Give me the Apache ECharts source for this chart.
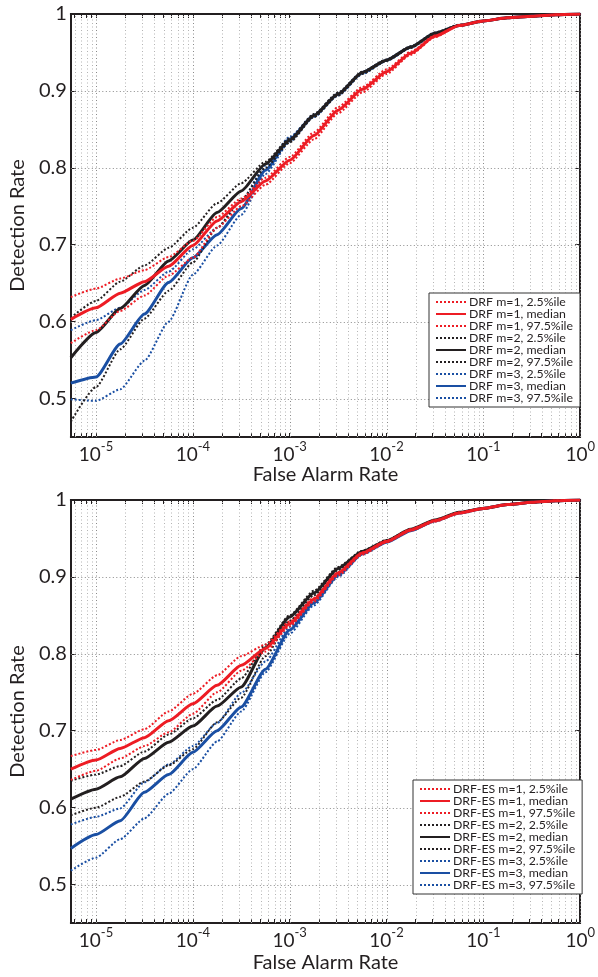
<!DOCTYPE html>
<html><head><meta charset="utf-8">
<script src="https://cdn.jsdelivr.net/npm/echarts@6/dist/echarts.min.js"></script>
<style>html,body{margin:0;padding:0;background:#fff}#c{width:598px;height:977px}</style>
</head><body><div id="c"></div><script>
// x values: log10(False Alarm Rate)
const farLog10 = [-5.26,-5,-4.75,-4.5,-4.25,-4,-3.75,-3.5,-3.25,-3,-2.75,-2.5,-2.25,-2,-1.75,-1.5,-1.25,-1,-0.75,-0.5,-0.25,0];

// Top panel: DRF
const drf_m1_lo  = [0.572,0.589,0.614,0.634,0.660,0.683,0.722,0.750,0.778,0.806,0.837,0.871,0.898,0.922,0.947,0.970,0.985,0.991,0.995,0.997,0.999,1.0];
const drf_m1_med = [0.603,0.618,0.637,0.652,0.672,0.699,0.731,0.756,0.783,0.810,0.842,0.875,0.902,0.925,0.949,0.971,0.985,0.991,0.995,0.997,0.999,1.0];
const drf_m1_hi  = [0.632,0.643,0.656,0.667,0.684,0.705,0.736,0.760,0.787,0.814,0.846,0.879,0.905,0.928,0.951,0.972,0.985,0.991,0.995,0.997,0.999,1.0];
const drf_m2_lo  = [0.470,0.515,0.564,0.604,0.640,0.677,0.722,0.758,0.800,0.833,0.866,0.894,0.922,0.939,0.956,0.974,0.985,0.991,0.995,0.997,0.999,1.0];
const drf_m2_med = [0.553,0.586,0.617,0.647,0.679,0.706,0.742,0.770,0.805,0.836,0.868,0.896,0.924,0.940,0.957,0.975,0.985,0.991,0.995,0.997,0.999,1.0];
const drf_m2_hi  = [0.605,0.627,0.652,0.673,0.696,0.722,0.754,0.780,0.808,0.838,0.870,0.898,0.925,0.941,0.958,0.976,0.986,0.991,0.995,0.997,0.999,1.0];
const drf_m3_lo  = [0.499,0.497,0.512,0.549,0.600,0.661,0.699,0.739,0.792,0.834,0.866,0.894,0.922,0.939,0.956,0.974,0.985,0.991,0.995,0.997,0.999,1.0];
const drf_m3_med = [0.520,0.528,0.571,0.610,0.651,0.683,0.713,0.747,0.797,0.837,0.868,0.896,0.924,0.940,0.957,0.975,0.985,0.991,0.995,0.997,0.999,1.0];
const drf_m3_hi  = [0.589,0.602,0.618,0.641,0.665,0.694,0.722,0.757,0.803,0.840,0.869,0.897,0.924,0.940,0.957,0.975,0.985,0.991,0.995,0.997,0.999,1.0];

// Bottom panel: DRF-ES
const es_m1_lo  = [0.636,0.648,0.664,0.680,0.698,0.722,0.750,0.778,0.803,0.836,0.868,0.902,0.929,0.945,0.960,0.972,0.983,0.989,0.994,0.997,0.999,1.0];
const es_m1_med = [0.650,0.662,0.677,0.691,0.713,0.735,0.759,0.785,0.807,0.839,0.871,0.905,0.931,0.946,0.961,0.973,0.983,0.989,0.994,0.997,0.999,1.0];
const es_m1_hi  = [0.667,0.675,0.688,0.702,0.725,0.748,0.772,0.797,0.812,0.842,0.873,0.906,0.932,0.947,0.962,0.974,0.984,0.989,0.994,0.997,0.999,1.0];
const es_m2_lo  = [0.590,0.600,0.614,0.634,0.655,0.676,0.711,0.743,0.797,0.843,0.876,0.909,0.932,0.946,0.961,0.973,0.983,0.989,0.994,0.997,0.999,1.0];
const es_m2_med = [0.611,0.624,0.640,0.664,0.685,0.706,0.732,0.757,0.808,0.848,0.879,0.911,0.933,0.947,0.962,0.974,0.984,0.989,0.994,0.997,0.999,1.0];
const es_m2_hi  = [0.635,0.643,0.654,0.673,0.695,0.716,0.740,0.768,0.812,0.850,0.882,0.913,0.934,0.948,0.962,0.974,0.984,0.989,0.994,0.997,0.999,1.0];
const es_m3_lo  = [0.518,0.535,0.559,0.586,0.618,0.650,0.686,0.725,0.776,0.826,0.863,0.900,0.929,0.945,0.960,0.972,0.983,0.989,0.994,0.997,0.999,1.0];
const es_m3_med = [0.547,0.565,0.583,0.620,0.643,0.672,0.700,0.731,0.780,0.831,0.866,0.902,0.930,0.945,0.960,0.973,0.983,0.989,0.994,0.997,0.999,1.0];
const es_m3_hi  = [0.578,0.588,0.599,0.633,0.656,0.680,0.710,0.749,0.790,0.835,0.869,0.904,0.931,0.946,0.961,0.973,0.983,0.989,0.994,0.997,0.999,1.0];

// axis ticks
const xDecades = [-5,-4,-3,-2,-1,0];
const yTicks = [0.5,0.6,0.7,0.8,0.9,1];
const X_MIN = -5.26, X_MAX = 0, Y_MIN = 0.45, Y_MAX = 1;

// minor log positions (2..9 within each decade)
const xMinor = [];
for (let d = -6; d < 0; d++) for (let k = 2; k <= 9; k++) { const v = d + Math.log10(k); if (v > X_MIN && v < X_MAX) xMinor.push(v); }
const xAllTicks = xDecades.concat(xMinor);

const INK = '#231F20';
const RED = '#ED1C24', BLACK = '#231F20', BLUE = '#1A4FA3';
const FONT = 'Lato';

function lineSeries(name, xi, yi, ys, color, med, z) {
  return {
    type: 'line', name, xAxisIndex: xi, yAxisIndex: yi, symbol: 'none', showSymbol: false,
    smooth: 0.2, smoothMonotone: 'x',
    data: farLog10.map((x, i) => [x, ys[i]]),
    lineStyle: med ? { color, width: 3 } : { color, width: 2, type: [2, 2] },
    itemStyle: { color }, z: z, emphasis: { disabled: true }, animation: false
  };
}
function vGrid(xi, yi, vals, color) {
  return {
    type: 'custom', xAxisIndex: xi, yAxisIndex: yi, silent: true, z: 1, animation: false,
    data: vals.map(v => [v, Y_MIN]), encode: { x: 0, y: 1 },
    renderItem: (params, api) => {
      const p1 = api.coord([api.value(0), Y_MIN]), p2 = api.coord([api.value(0), Y_MAX]);
      const x = Math.round(p1[0]) + 0.5;
      return { type: 'line', shape: { x1: x, y1: p1[1], x2: x, y2: p2[1] }, style: { stroke: color, lineWidth: 1, lineDash: [1, 2.5] } };
    }
  };
}
function hGrid(xi, yi, vals, color) {
  return {
    type: 'custom', xAxisIndex: xi, yAxisIndex: yi, silent: true, z: 1, animation: false,
    data: vals.map(v => [X_MIN, v]), encode: { x: 0, y: 1 },
    renderItem: (params, api) => {
      const p1 = api.coord([X_MIN, api.value(1)]), p2 = api.coord([X_MAX, api.value(1)]);
      const y = Math.round(p1[1]) + 0.5;
      return { type: 'line', shape: { x1: p1[0], y1: y, x2: p2[0], y2: y }, style: { stroke: color, lineWidth: 1, lineDash: [1, 2.5] } };
    }
  };
}

function xAxisDef(gi, pos, main, gap) {
  return {
    type: 'value', gridIndex: gi, position: pos, min: X_MIN, max: X_MAX,
    splitLine: { show: false },
    axisLine: { show: true, onZero: false, lineStyle: { color: INK, width: 2 } },
    axisTick: { show: true, inside: true, length: 4, customValues: xAllTicks, lineStyle: { color: INK, width: 1 } },
    axisLabel: main ? {
      show: true, customValues: xDecades, margin: 3,
      formatter: v => '{b|10}{s|' + String(Math.round(v)) + '}',
      rich: {
        b: { fontSize: 19, fontFamily: FONT, color: INK, lineHeight: 24, verticalAlign: 'bottom' },
        s: { fontSize: 13, fontFamily: FONT, color: INK, lineHeight: 24, verticalAlign: 'top' }
      }
    } : { show: false },
    name: main ? 'False Alarm Rate' : '', nameLocation: 'middle', nameGap: gap,
    nameTextStyle: { fontSize: 20, fontFamily: FONT, color: INK }
  };
}
function yAxisDef(gi, pos, main) {
  return {
    type: 'value', gridIndex: gi, position: pos, min: Y_MIN, max: Y_MAX,
    splitLine: { show: false },
    axisLine: { show: true, onZero: false, lineStyle: { color: INK, width: 2 } },
    axisTick: { show: true, inside: true, length: 5, customValues: yTicks, lineStyle: { color: INK, width: 1 } },
    axisLabel: main ? {
      show: true, customValues: yTicks, margin: 4, fontSize: 20, fontFamily: FONT, color: INK,
      formatter: v => (Math.abs(v - 1) < 1e-9 ? '1' : v.toFixed(1))
    } : { show: false },
    name: main ? 'Detection Rate' : '', nameLocation: 'middle', nameGap: 24, nameRotate: 90,
    nameTextStyle: { fontSize: 20, fontFamily: FONT, color: INK }
  };
}

const topNames = ['DRF m=1, 2.5%ile','DRF m=1, median','DRF m=1, 97.5%ile','DRF m=2, 2.5%ile','DRF m=2, median','DRF m=2, 97.5%ile','DRF m=3, 2.5%ile','DRF m=3, median','DRF m=3, 97.5%ile'];
const botNames = ['DRF-ES m=1, 2.5%ile','DRF-ES m=1, median','DRF-ES m=1, 97.5%ile','DRF-ES m=2, 2.5%ile','DRF-ES m=2, median','DRF-ES m=2, 97.5%ile','DRF-ES m=3, 2.5%ile','DRF-ES m=3, median','DRF-ES m=3, 97.5%ile'];

const series = [
  vGrid(0, 0, xMinor, '#b4b4b4'), vGrid(0, 0, xDecades, '#8a8a8a'), hGrid(0, 0, yTicks.slice(0, 5), '#8a8a8a'),
  vGrid(2, 2, xMinor, '#b4b4b4'), vGrid(2, 2, xDecades, '#8a8a8a'), hGrid(2, 2, yTicks.slice(0, 5), '#8a8a8a'),
  // top panel (blue, black, red drawing order)
  lineSeries(topNames[6], 0, 0, drf_m3_lo, BLUE, false, 3),
  lineSeries(topNames[8], 0, 0, drf_m3_hi, BLUE, false, 3),
  lineSeries(topNames[7], 0, 0, drf_m3_med, BLUE, true, 3),
  lineSeries(topNames[3], 0, 0, drf_m2_lo, BLACK, false, 4),
  lineSeries(topNames[5], 0, 0, drf_m2_hi, BLACK, false, 4),
  lineSeries(topNames[4], 0, 0, drf_m2_med, BLACK, true, 4),
  lineSeries(topNames[0], 0, 0, drf_m1_lo, RED, false, 5),
  lineSeries(topNames[2], 0, 0, drf_m1_hi, RED, false, 5),
  lineSeries(topNames[1], 0, 0, drf_m1_med, RED, true, 5),
  // bottom panel
  lineSeries(botNames[6], 2, 2, es_m3_lo, BLUE, false, 3),
  lineSeries(botNames[8], 2, 2, es_m3_hi, BLUE, false, 3),
  lineSeries(botNames[7], 2, 2, es_m3_med, BLUE, true, 3),
  lineSeries(botNames[3], 2, 2, es_m2_lo, BLACK, false, 4),
  lineSeries(botNames[5], 2, 2, es_m2_hi, BLACK, false, 4),
  lineSeries(botNames[4], 2, 2, es_m2_med, BLACK, true, 4),
  lineSeries(botNames[0], 2, 2, es_m1_lo, RED, false, 5),
  lineSeries(botNames[2], 2, 2, es_m1_hi, RED, false, 5),
  lineSeries(botNames[1], 2, 2, es_m1_med, RED, true, 5)
];

function legendDef(names, left, top) {
  return {
    data: names, orient: 'vertical', left, top, z: 20,
    backgroundColor: '#fff', borderColor: '#333', borderWidth: 1, borderRadius: 0,
    padding: [3, 7, 3, 6], itemWidth: 30, itemHeight: 14, itemGap: 0,
    selectedMode: false,
    itemStyle: { opacity: 0 },
    textStyle: { fontSize: 12.3, fontFamily: FONT, color: INK, padding: [0, 0, 0, -2] }
  };
}

const chart = echarts.init(document.getElementById('c'), null, { renderer: 'canvas' });
chart.setOption({
  animation: false,
  backgroundColor: '#fff',
  grid: [
    { left: 65, top: 14, width: 518, height: 423, show: true, borderColor: INK, borderWidth: 1.5, backgroundColor: 'transparent' },
    { left: 64, top: 500, width: 519, height: 423, show: true, borderColor: INK, borderWidth: 1.5, backgroundColor: 'transparent' }
  ],
  xAxis: [xAxisDef(0, 'bottom', true, 28), xAxisDef(0, 'top', false, 0), xAxisDef(1, 'bottom', true, 30), xAxisDef(1, 'top', false, 0)],
  yAxis: [yAxisDef(0, 'left', true), yAxisDef(0, 'right', false), yAxisDef(1, 'left', true), yAxisDef(1, 'right', false)],
  legend: [legendDef(topNames, 429, 293), legendDef(botNames, 413, 780)],
  series
});
</script></body></html>
